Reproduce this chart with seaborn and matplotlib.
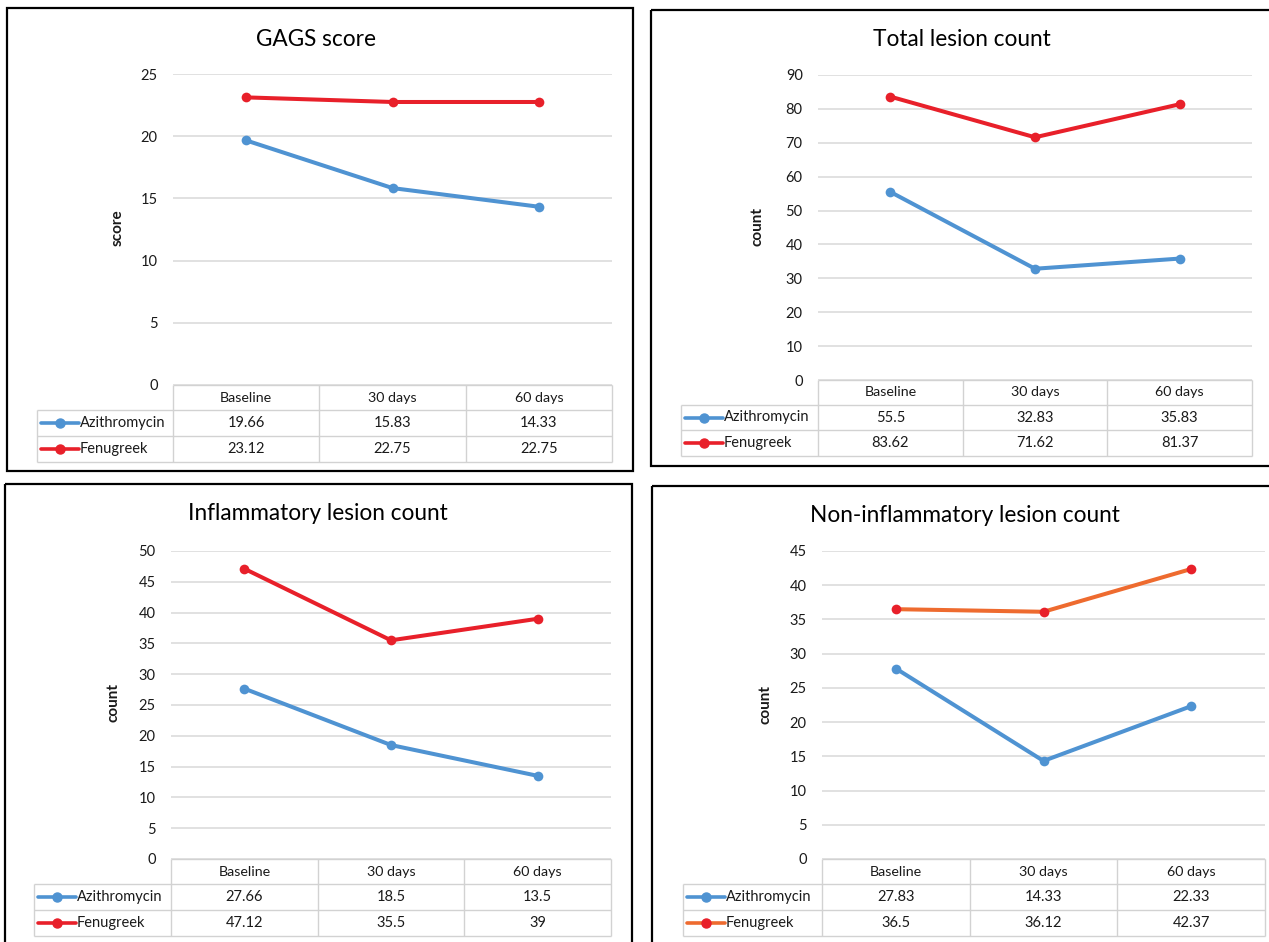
import matplotlib
matplotlib.use("Agg")
import matplotlib.pyplot as plt
import numpy as np
import pandas as pd
import seaborn as sns
from matplotlib.lines import Line2D
from matplotlib.patches import Rectangle

# ---- data ----
timepoints = ["Baseline", "30 days", "60 days"]
groups = ["Azithromycin", "Fenugreek"]

gags_azi = [19.66, 15.83, 14.33]
gags_fen = [23.12, 22.75, 22.75]

total_azi = [55.5, 32.83, 35.83]
total_fen = [83.62, 71.62, 81.37]

infl_azi = [27.66, 18.5, 13.5]
infl_fen = [47.12, 35.5, 39]

noninfl_azi = [27.83, 14.33, 22.33]
noninfl_fen = [36.5, 36.12, 42.37]

titles = ["GAGS score", "Total lesion count",
          "Inflammatory lesion count", "Non-inflammatory lesion count"]
ylabels = ["score", "count", "count", "count"]
ymax = [25, 90, 50, 45]
ystep = [5, 10, 5, 5]

# ---- styling ----
BLUE = "#4F93D2"
RED = "#E8202A"
ORANGE = "#EE6B2F"
GRID = "#D9D9D9"
TABLE = "#D2D2D2"
TXT = "#1A1A1A"

sns.set_theme(style="white")
plt.rcParams["font.family"] = ["Lato", "DejaVu Sans"]

W, H = 1269, 942
fig = plt.figure(figsize=(W / 100, H / 100), dpi=100)
fig.patch.set_facecolor("white")

# overlay in pixel units for frames, titles and the data tables
ov = fig.add_axes([0, 0, 1, 1])
ov.set_xlim(0, W)
ov.set_ylim(H, 0)
ov.axis("off")
ov.patch.set_visible(False)

# geometry of each panel in pixels
panels = [
    dict(box=(7, 8, 633, 471), plot=(173, 612, 74, 385), rows=(385, 410, 436, 462),
         legx=37, title=(316, 40), ylab=(118, 228)),
    dict(box=(651, 10, 1290, 466), plot=(818, 1252, 75, 380), rows=(380, 405, 430, 456),
         legx=681, title=(962, 40), ylab=(758, 226)),
    dict(box=(5, 484, 632, 960), plot=(171, 611, 551, 859), rows=(859, 884, 910, 936),
         legx=34, title=(318, 514), ylab=(113, 703)),
    dict(box=(652, 486, 1290, 960), plot=(822, 1265, 551, 859), rows=(859, 884, 910, 936),
         legx=683, title=(965, 515), ylab=(765, 705)),
]
series = [(gags_azi, gags_fen), (total_azi, total_fen),
          (infl_azi, infl_fen), (noninfl_azi, noninfl_fen)]
line_colors = [(BLUE, RED), (BLUE, RED), (BLUE, RED), (BLUE, ORANGE)]
marker_colors = [(BLUE, RED)] * 4


def fmt(v):
    return f"{v:g}"


for i, p in enumerate(panels):
    azi, fen = series[i]
    lc = line_colors[i]
    mc = marker_colors[i]
    bx0, by0, bx1, by1 = p["box"]
    x0, x1, yt, yb = p["plot"]
    r0, r1, r2, r3 = p["rows"]

    # frame
    ov.add_patch(Rectangle((bx0, by0), bx1 - bx0, by1 - by0, fill=False,
                           edgecolor="black", lw=1.6, clip_on=False))
    ov.text(p["title"][0], p["title"][1], titles[i], ha="center", va="center",
            fontsize=16.3, color="black")

    # line chart
    ax = fig.add_axes([x0 / W, 1 - yb / H, (x1 - x0) / W, (yb - yt) / H])
    df = pd.DataFrame({
        "pos": list(range(len(timepoints))) * 2,
        "value": list(azi) + list(fen),
        "group": [groups[0]] * len(azi) + [groups[1]] * len(fen),
    })
    sns.lineplot(data=df, x="pos", y="value", hue="group", hue_order=groups,
                 palette=dict(zip(groups, lc)), marker="o", markersize=7,
                 markeredgewidth=0, linewidth=2.9, legend=False, ax=ax)
    for ln, c in zip(ax.lines, mc):
        ln.set_markerfacecolor(c)
        ln.set_markeredgecolor(c)
        ln.set_zorder(3)
    ax.set_xlim(-0.5, len(timepoints) - 0.5)
    ax.set_ylim(0, ymax[i])
    ax.set_yticks(np.arange(0, ymax[i] + 0.1, ystep[i]))
    ax.set_xticks([])
    ax.set_xlabel("")
    ax.set_ylabel("")
    for s in ax.spines.values():
        s.set_visible(False)
    ax.grid(axis="y", color=GRID, lw=1.1)
    ax.set_axisbelow(True)
    ax.tick_params(axis="y", length=0, pad=11, labelsize=10.5, labelcolor=TXT)
    ax.patch.set_visible(False)

    ov.text(p["ylab"][0], p["ylab"][1], ylabels[i], rotation=90, ha="center",
            va="center", fontsize=11, fontweight="bold", color=TXT)

    # data table under the chart
    cw = (x1 - x0) / len(timepoints)
    kw = dict(color=TABLE, lw=1.0, solid_capstyle="butt")
    ov.plot([x0, x1], [r0, r0], **kw)
    for yy in (r1, r2, r3):
        ov.plot([p["legx"], x1], [yy, yy], **kw)
    ov.plot([p["legx"], p["legx"]], [r1, r3], **kw)
    for k in range(len(timepoints) + 1):
        xx = x0 + k * cw
        ov.plot([xx, xx], [r0, r3], **kw)
    for k, t in enumerate(timepoints):
        cx = x0 + (k + 0.5) * cw
        ov.text(cx, (r0 + r1) / 2, t, ha="center", va="center", fontsize=10.3, color=TXT)
        ov.text(cx, (r1 + r2) / 2, fmt(azi[k]), ha="center", va="center",
                fontsize=10.5, color=TXT)
        ov.text(cx, (r2 + r3) / 2, fmt(fen[k]), ha="center", va="center",
                fontsize=10.5, color=TXT)
    # legend keys inside the table
    for (yy0, yy1), g, c, m in zip(((r1, r2), (r2, r3)), groups, lc, mc):
        ym = (yy0 + yy1) / 2
        lx0, lx1 = p["legx"] + 4, p["legx"] + 42
        ov.add_line(Line2D([lx0, (lx0 + lx1) / 2, lx1], [ym, ym, ym], color=c, lw=2.6,
                           marker="o", markevery=[1], markersize=6.5,
                           markerfacecolor=m, markeredgecolor=m))
        ov.text(lx1 + 1, ym, g, ha="left", va="center", fontsize=10.5, color=TXT)

fig.savefig("out.png", dpi=100, facecolor="white")
